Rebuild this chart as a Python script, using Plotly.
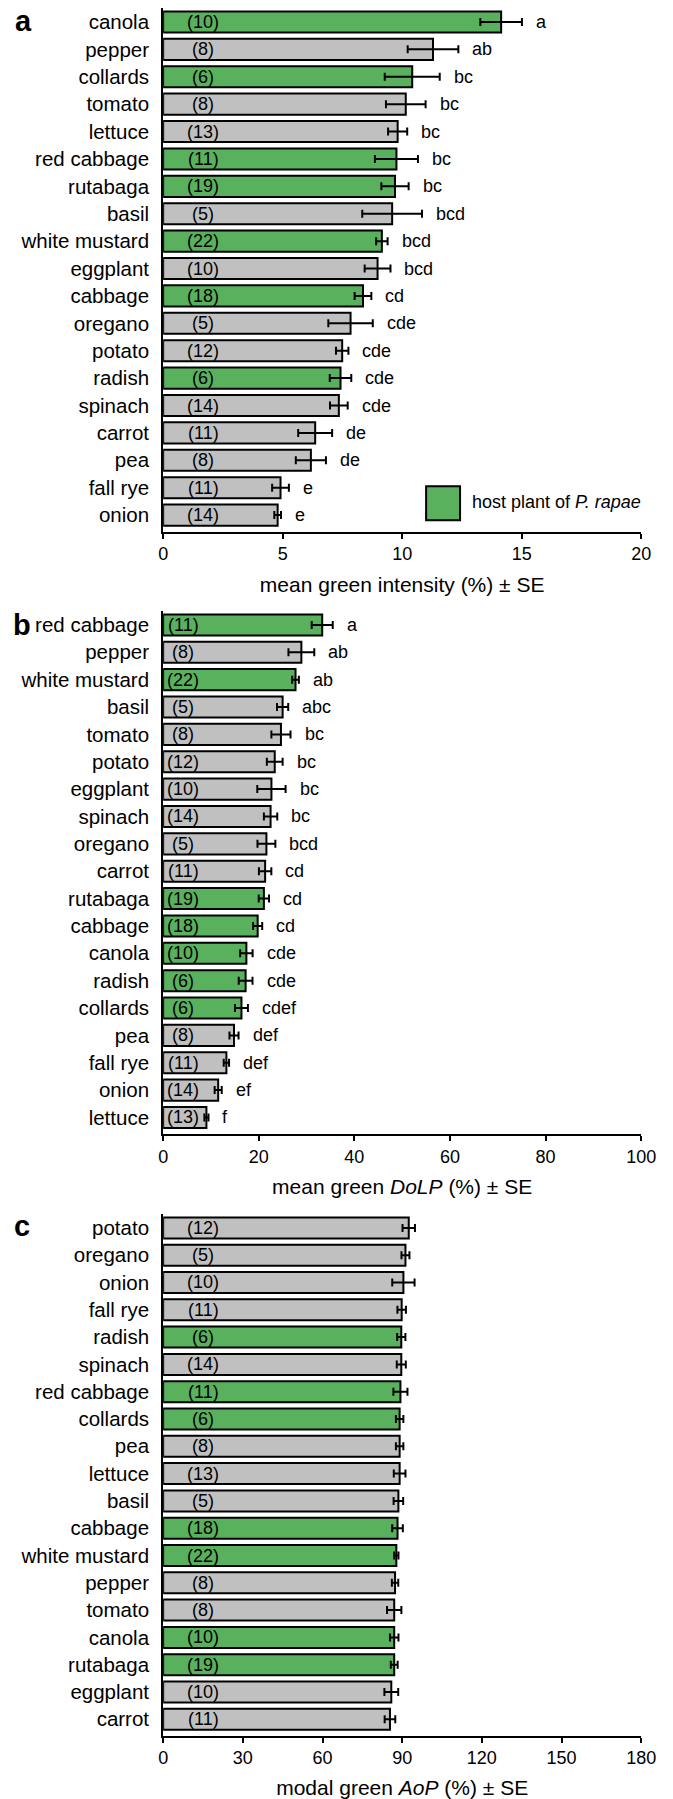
import plotly.graph_objects as go

# ---------------- data ----------------
host_plants = ["canola", "collards", "red cabbage", "rutabaga", "white mustard", "cabbage", "radish"]

cats_a = ["canola", "pepper", "collards", "tomato", "lettuce", "red cabbage", "rutabaga", "basil",
          "white mustard", "eggplant", "cabbage", "oregano", "potato", "radish", "spinach", "carrot",
          "pea", "fall rye", "onion"]
mean_a = [14.14, 11.29, 10.42, 10.15, 9.81, 9.76, 9.70, 9.58, 9.15, 8.97, 8.36, 7.84, 7.49, 7.42,
          7.35, 6.36, 6.18, 4.91, 4.79]
se_a = [0.87, 1.06, 1.15, 0.83, 0.40, 0.90, 0.57, 1.25, 0.24, 0.54, 0.35, 0.93, 0.26, 0.45, 0.37,
        0.71, 0.63, 0.35, 0.14]
n_a = [10, 8, 6, 8, 13, 11, 19, 5, 22, 10, 18, 5, 12, 6, 14, 11, 8, 11, 14]
letters_a = ["a", "ab", "bc", "bc", "bc", "bc", "bc", "bcd", "bcd", "bcd", "cd", "cde", "cde", "cde",
             "cde", "de", "de", "e", "e"]

cats_b = ["red cabbage", "pepper", "white mustard", "basil", "tomato", "potato", "eggplant", "spinach",
          "oregano", "carrot", "rutabaga", "cabbage", "canola", "radish", "collards", "pea", "fall rye",
          "onion", "lettuce"]
mean_b = [33.27, 28.91, 27.69, 24.99, 24.64, 23.34, 22.65, 22.47, 21.60, 21.33, 21.07, 19.77, 17.41,
          17.25, 16.38, 14.82, 13.23, 11.51, 9.05]
se_b = [2.2, 2.7, 0.7, 1.17, 2.0, 1.65, 2.96, 1.4, 1.87, 1.3, 1.08, 0.95, 1.3, 1.44, 1.35, 0.95, 0.56,
        0.74, 0.43]
n_b = [11, 8, 22, 5, 8, 12, 10, 14, 5, 11, 19, 18, 10, 6, 6, 8, 11, 14, 13]
letters_b = ["a", "ab", "ab", "abc", "bc", "bc", "bc", "bc", "bcd", "cd", "cd", "cd", "cde", "cde",
             "cdef", "def", "def", "ef", "f"]

cats_c = ["potato", "oregano", "onion", "fall rye", "radish", "spinach", "red cabbage", "collards", "pea",
          "lettuce", "basil", "cabbage", "white mustard", "pepper", "tomato", "canola", "rutabaga",
          "eggplant", "carrot"]
mean_c = [92.47, 91.23, 90.46, 89.81, 89.66, 89.66, 89.34, 89.04, 89.04, 89.04, 88.57, 88.25, 87.80,
          87.32, 87.00, 87.00, 87.00, 85.90, 85.40]
se_c = [2.34, 1.5, 4.2, 1.6, 1.55, 1.7, 2.65, 1.4, 1.4, 2.2, 1.8, 2.0, 0.8, 1.2, 2.7, 1.6, 1.3, 2.6, 2.0]
n_c = [12, 5, 10, 11, 6, 14, 11, 6, 8, 13, 5, 18, 22, 8, 8, 10, 19, 10, 11]

x_titles = ["mean green intensity (%) ± SE",
            "mean green <i>DoLP</i> (%) ± SE",
            "modal green <i>AoP</i> (%) ± SE"]
x_ranges = [[0, 20], [0, 100], [0, 180]]
x_dticks = [5, 20, 30]
panel_labels = ["a", "b", "c"]
legend_text = "host plant of <i>P. rapae</i>"

# ---------------- style ----------------
GREEN = "#59B15D"
GREY = "#C0C0C0"
FONT = "Arial, Liberation Sans, Helvetica, sans-serif"
W, H = 673, 1799

# pixel layout of plot areas
x_left, x_right = 163, 655.7
panel_px = [(8.3, 533.3), (613.3, 1137.7), (1218.3, 1741.5)]
n_shift = [40, 20, 40]
label_pos = [(19, 20.7), (18, 626.7), (18, 1230)]
title_standoff = [14, 14, 16]

panels = [
    (cats_a, mean_a, se_a, n_a, letters_a),
    (cats_b, mean_b, se_b, n_b, letters_b),
    (cats_c, mean_c, se_c, n_c, None),
]

fig = go.Figure()
annotations = []
layout_axes = {}

for i, (cats, means, ses, ns, letters) in enumerate(panels):
    xa = "x" if i == 0 else f"x{i+1}"
    ya = "y" if i == 0 else f"y{i+1}"
    colors = [GREEN if c in host_plants else GREY for c in cats]
    fig.add_trace(go.Bar(
        orientation="h", y=cats, x=means, xaxis=xa, yaxis=ya,
        width=0.77,
        marker=dict(color=colors, line=dict(color="black", width=2)),
        error_x=dict(type="data", array=ses, color="black", thickness=2, width=4),
        showlegend=False, hoverinfo="x+y",
    ))
    top, bot = panel_px[i]
    key = "" if i == 0 else str(i + 1)
    layout_axes[f"xaxis{key}"] = dict(
        domain=[x_left / W, x_right / W], anchor=ya, range=x_ranges[i], dtick=x_dticks[i],
        showline=True, linecolor="black", linewidth=2, ticks="outside", ticklen=5, tickwidth=2,
        tickcolor="black", showgrid=False, zeroline=False,
        tickfont=dict(size=18, color="black", family=FONT),
        title=dict(text=x_titles[i], font=dict(size=21, color="black", family=FONT),
                   standoff=title_standoff[i]),
    )
    layout_axes[f"yaxis{key}"] = dict(
        domain=[1 - bot / H, 1 - top / H], anchor=xa, type="category",
        range=[len(cats) - 1 + 0.6, -0.5],
        showline=True, linecolor="black", linewidth=2, ticks="", showgrid=False, zeroline=False,
        tickfont=dict(size=20.5, color="black", family=FONT), ticklabelstandoff=8,
    )
    for j, c in enumerate(cats):
        annotations.append(dict(x=0, y=c, xref=xa, yref=ya, text=f"({ns[j]})", showarrow=False,
                                xanchor="center", xshift=n_shift[i],
                                font=dict(size=18, color="black", family=FONT)))
        if letters is not None:
            annotations.append(dict(x=means[j] + ses[j], y=c, xref=xa, yref=ya, text=letters[j],
                                    showarrow=False, xanchor="left", xshift=12,
                                    font=dict(size=18, color="black", family=FONT)))
    lx, ly = label_pos[i]
    annotations.append(dict(x=lx / W, y=1 - ly / H, xref="paper", yref="paper", text=f"<b>{panel_labels[i]}</b>",
                            showarrow=False, xanchor="center", yanchor="middle",
                            font=dict(size=29, color="black", family=FONT)))

# legend (host plant key)
annotations.append(dict(x=479.3 / W, y=1 - 504 / H, xref="paper", yref="paper", text=legend_text,
                        showarrow=False, xanchor="left", yanchor="middle",
                        font=dict(size=18, color="black", family=FONT)))
shapes = [dict(type="rect", xref="paper", yref="paper", x0=434 / W, x1=469 / W,
               y0=1 - 522 / H, y1=1 - 488 / H, fillcolor=GREEN, line=dict(color="black", width=2))]

fig.update_layout(
    width=W, height=H, margin=dict(l=0, r=0, t=0, b=0),
    paper_bgcolor="white", plot_bgcolor="white",
    font=dict(family=FONT, color="black"),
    annotations=annotations, shapes=shapes, bargap=0.23,
    **layout_axes,
)

fig.write_html("out.html")
